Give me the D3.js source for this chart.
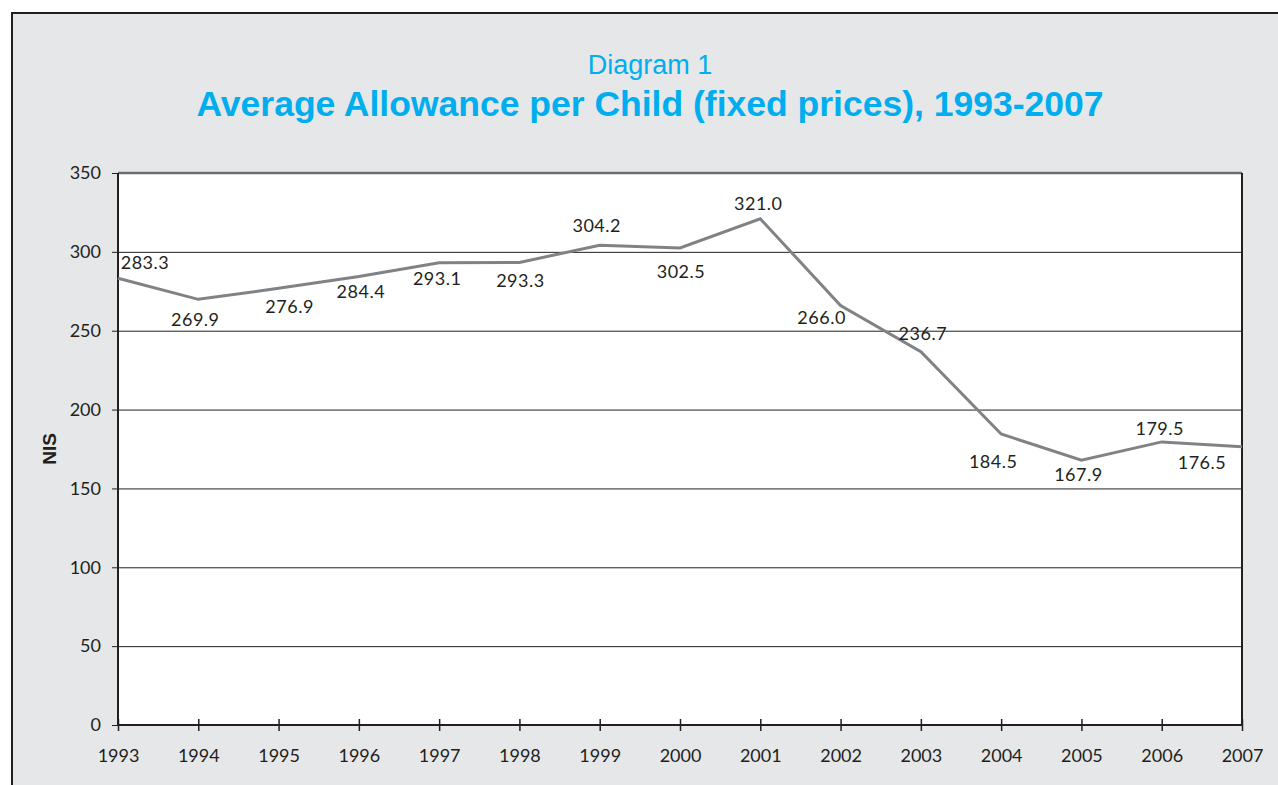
<!DOCTYPE html>
<html>
<head>
<meta charset="utf-8">
<script src="https://cdn.jsdelivr.net/npm/d3@7"></script>
<style>
  html, body { margin: 0; padding: 0; background: #ffffff; }
  svg { display: block; }
</style>
</head>
<body>
<svg id="chart" width="1278" height="785"></svg>
<script>
// ---- data ----
const years = [1993, 1994, 1995, 1996, 1997, 1998, 1999, 2000, 2001, 2002, 2003, 2004, 2005, 2006, 2007];
const allowance = [283.3, 269.9, 276.9, 284.4, 293.1, 293.3, 304.2, 302.5, 321.0, 266.0, 236.7, 184.5, 167.9, 179.5, 176.5];
const yTicks = [0, 50, 100, 150, 200, 250, 300, 350];
const subtitle = "Diagram 1";
const title = "Average Allowance per Child (fixed prices), 1993-2007";
const yLabel = "NIS";

// ---- label placement (style, not data) ----
const labelOffsets = [
  [27, -16], [-3, 20], [11, 18], [2, 15], [-2, 15], [1, 18], [-3, -20], [1, 23],
  [-2, -16], [-19, 12], [2, -19], [-8, 27], [-3, 14], [-2, -14], [-40, 15]
];

const svg = d3.select("#chart");
const W = 1278, H = 785;
const plot = { left: 118, right: 1242, top: 173, bottom: 725 };

// background and outer frame
svg.append("rect").attr("x", 0).attr("y", 0).attr("width", W).attr("height", H).attr("fill", "#ffffff");
svg.append("rect").attr("x", 12).attr("y", 13).attr("width", W + 20).attr("height", H + 20)
  .attr("fill", "#e6e7e8").attr("stroke", "#231f20").attr("stroke-width", 2);

// titles
svg.append("text").attr("x", 650).attr("y", 74).attr("text-anchor", "middle")
  .attr("font-family", "'Liberation Sans', Arial, sans-serif").attr("font-size", 27)
  .attr("fill", "#00aeef").text(subtitle);
svg.append("text").attr("x", 650).attr("y", 116).attr("text-anchor", "middle")
  .attr("font-family", "'Liberation Sans', Arial, sans-serif").attr("font-size", 35.5)
  .attr("font-weight", "bold").attr("fill", "#00aeef").text(title);

// scales
const x = d3.scaleLinear().domain([years[0], years[years.length - 1]]).range([plot.left, plot.right]);
const y = d3.scaleLinear().domain([0, 350]).range([plot.bottom, plot.top]);

// plot area
svg.append("rect").attr("x", plot.left).attr("y", plot.top)
  .attr("width", plot.right - plot.left).attr("height", plot.bottom - plot.top).attr("fill", "#ffffff");

// y axis with gridlines
const yAxis = d3.axisLeft(y).tickValues(yTicks).tickSize(6).tickPadding(12)
  .tickFormat(d3.format("d"));
const gy = svg.append("g").attr("transform", `translate(${plot.left},0)`).call(yAxis);
gy.select(".domain").remove();
gy.selectAll(".tick line")
  .attr("x1", -6).attr("x2", plot.right - plot.left)
  .attr("stroke", "#231f20").attr("stroke-width", 1);
gy.selectAll(".tick").filter(d => d === 0 || d === 350).select("line").attr("x2", 0);
gy.selectAll(".tick text")
  .attr("x", -17)
  .attr("font-family", "Lato, 'Open Sans', sans-serif").attr("font-size", 18).attr("fill", "#231f20");

// frame lines
svg.append("line").attr("x1", plot.left).attr("x2", plot.right).attr("y1", plot.top).attr("y2", plot.top)
  .attr("stroke", "#6d6e71").attr("stroke-width", 2.5);
svg.append("line").attr("x1", plot.right).attr("x2", plot.right).attr("y1", plot.top).attr("y2", plot.bottom)
  .attr("stroke", "#231f20").attr("stroke-width", 2);
svg.append("line").attr("x1", plot.left).attr("x2", plot.left).attr("y1", plot.top).attr("y2", plot.bottom + 1)
  .attr("stroke", "#231f20").attr("stroke-width", 2);

// x axis
const xAxis = d3.axisBottom(x).tickValues(years).tickSize(6).tickPadding(18).tickFormat(d3.format("d"));
const gx = svg.append("g").attr("transform", `translate(0,${plot.bottom})`).call(xAxis);
gx.select(".domain").attr("stroke", "#231f20").attr("stroke-width", 2).attr("d", `M${plot.left},0H${plot.right}`);
gx.selectAll(".tick line").attr("y1", -6).attr("y2", 6).attr("stroke", "#231f20").attr("stroke-width", 1.5);
gx.selectAll(".tick text")
  .attr("font-family", "Lato, 'Open Sans', sans-serif").attr("font-size", 18).attr("fill", "#231f20");

// y label
svg.append("text").attr("transform", "translate(56,449) rotate(-90)").attr("text-anchor", "middle")
  .attr("font-family", "'Liberation Sans', Arial, sans-serif").attr("font-size", 19).attr("font-weight", "bold")
  .attr("fill", "#231f20").text(yLabel);

// line
const pts = years.map((yr, i) => ({ year: yr, value: allowance[i], off: labelOffsets[i] }));
const line = d3.line().x(d => x(d.year)).y(d => y(d.value));
svg.append("path").datum(pts).attr("d", line).attr("fill", "none")
  .attr("stroke", "#808285").attr("stroke-width", 3).attr("stroke-linejoin", "miter");

// data labels
svg.append("g").selectAll("text").data(pts).join("text")
  .attr("x", d => x(d.year) + d.off[0])
  .attr("y", d => y(d.value) + d.off[1])
  .attr("text-anchor", "middle").attr("dominant-baseline", "central")
  .attr("font-family", "Lato, 'Open Sans', sans-serif").attr("font-size", 18)
  .attr("letter-spacing", 0.5).attr("fill", "#231f20")
  .text(d => d3.format(".1f")(d.value));
</script>
</body>
</html>
